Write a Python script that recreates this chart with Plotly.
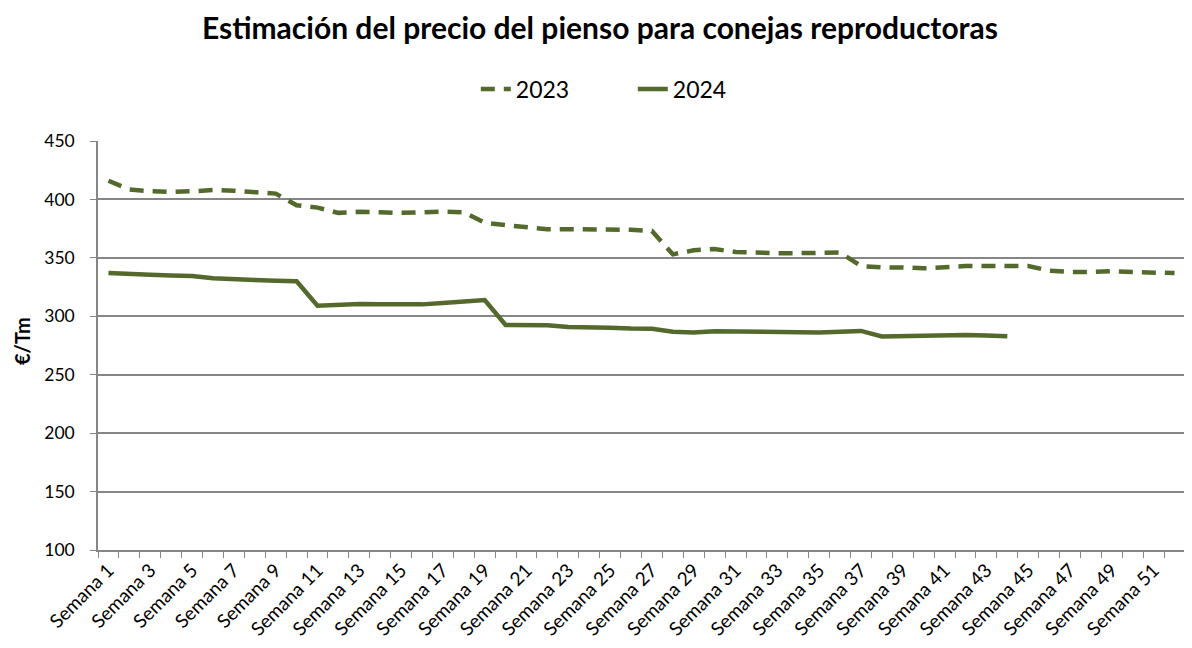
import plotly.graph_objects as go

weeks = [f"Semana {i}" for i in range(1, 53)]

precio_2023 = [416, 408.5, 407, 406.5, 407, 408, 407.5, 406, 405, 395,
               393, 388.5, 389.5, 389, 388.5, 389, 389.5, 389, 380, 378,
               376, 374.5, 374.5, 374.5, 374.5, 374, 373, 353, 356.5, 357.5,
               355, 354.3, 354, 354, 354, 354.6, 343, 341.8, 341.8, 341,
               342, 343, 343, 343, 343, 339, 338, 338, 338.6, 337.8,
               337.2, 337]

precio_2024 = [337, 336, 335.5, 335, 334.5, 332.5, 331.5, 331, 330.5, 330,
               309, 309.9, 310.5, 310.2, 309.9, 310.2, 311.4, 312.5, 313.9, 292.5,
               292.5, 292.3, 290.8, 290.8, 290.2, 289.6, 289.4, 286.8, 286.2, 287.3,
               287, 286.5, 286.2, 285.9, 286.2, 286.8, 287.5, 282.8, 283, 283.8,
               284.2, 284, 283.5, 283]

color = "#536A2C"
font_family = "Lato, 'Open Sans', sans-serif"

W, H = 1184, 640
L, R, T, B = 90, 7, 133, 98
pw, ph = W - L - R, H - T - B

fig = go.Figure()
fig.add_trace(go.Scatter(x=weeks, y=precio_2023, mode="lines", name="2023",
                         line=dict(color=color, width=4.5, dash="14px,9px")))
fig.add_trace(go.Scatter(x=weeks[:len(precio_2024)], y=precio_2024, mode="lines", name="2024",
                         line=dict(color=color, width=4.5)))

fig.update_layout(
    width=W, height=H,
    paper_bgcolor="white", plot_bgcolor="white",
    margin=dict(l=L, r=R, t=T, b=B),
    font=dict(family=font_family, color="black"),
    title=dict(text="<b>Estimación del precio del pienso para conejas reproductoras</b>",
               x=0.5, xanchor="center", y=1 - 20 / H, yanchor="middle",
               font=dict(size=30, color="black")),
    legend=dict(orientation="h", x=0.492, xanchor="center", y=1.127, yanchor="middle",
                font=dict(size=23), entrywidth=112, traceorder="normal"),
    showlegend=True,
    annotations=[dict(text="<b>€/Tm</b>", xref="paper", yref="paper",
                      x=-(L - 14) / pw, y=(542 - 333) / ph,
                      xanchor="center", yanchor="middle", textangle=-90,
                      showarrow=False, font=dict(size=20, color="black"))],
)
fig.update_xaxes(
    type="category", categoryorder="array", categoryarray=weeks,
    tickmode="linear", tick0=0, dtick=1,
    tickson="boundaries", ticks="outside", ticklen=6, tickcolor="#868686",
    ticklabelstep=2, tickangle=-45, tickfont=dict(size=19),
    showline=True, linecolor="#868686", linewidth=1.5,
    showgrid=False, range=[-0.5, 51.5], automargin=False,
)
fig.update_yaxes(
    range=[100, 450], dtick=50, tick0=100,
    ticks="outside", ticklen=6, tickcolor="#868686",
    showline=True, linecolor="#868686", linewidth=1.5,
    showgrid=True, gridcolor="#868686", gridwidth=1.5,
    tickfont=dict(size=17.5), zeroline=False, automargin=False,
    ticklabelstandoff=12,
)

fig.write_html("out.html")
